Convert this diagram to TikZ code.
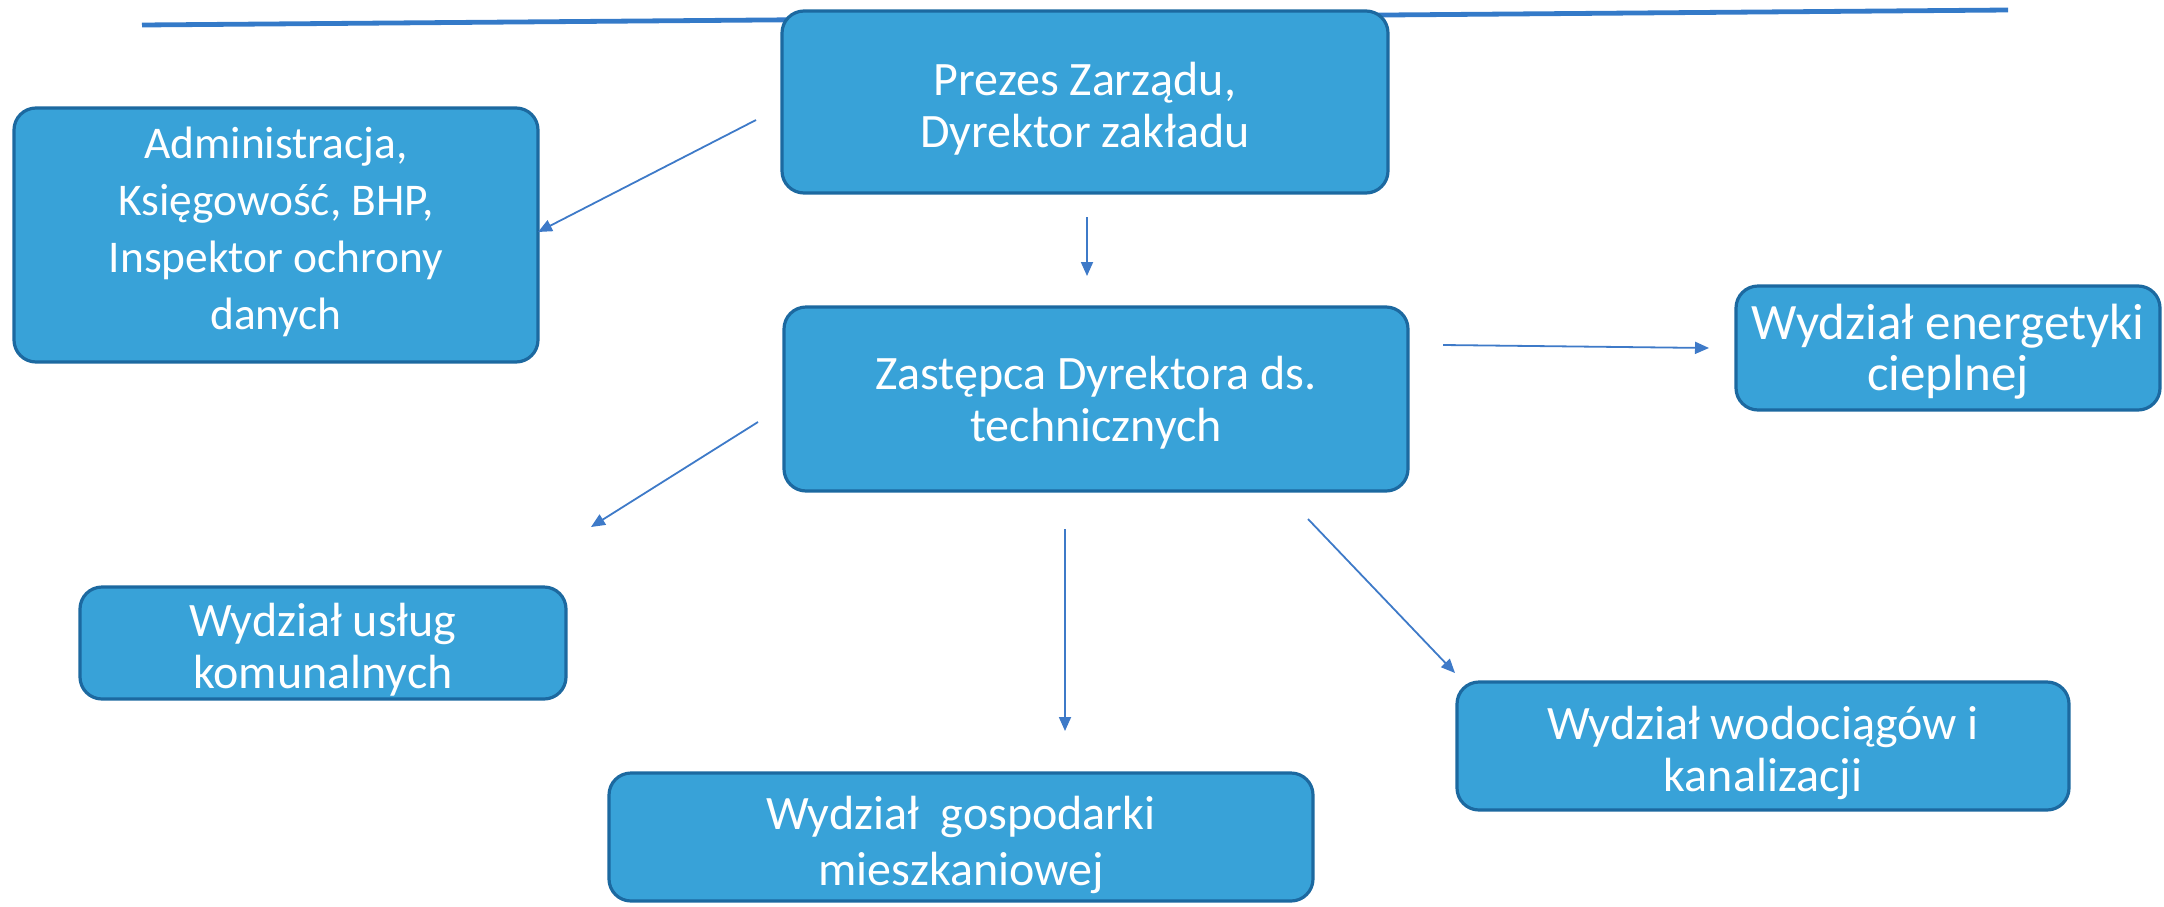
\documentclass[tikz,border=0pt]{standalone}
\usepackage{fontspec}
\setmainfont{Carlito}
\usetikzlibrary{arrows.meta}
\definecolor{boxfill}{RGB}{56,162,216}
\definecolor{boxdraw}{RGB}{28,105,160}
\definecolor{linkblue}{RGB}{62,122,200}
\definecolor{rule}{RGB}{52,122,200}
\tikzset{
  orgbox/.style={draw=boxdraw, line width=1.6pt, fill=boxfill, rounded corners=11pt,
    inner sep=0pt},
  orgtext/.style={text=white, align=center, inner sep=0pt,
    font=\fontsize{24}{26}\selectfont},
  link/.style={draw=linkblue, line width=0.9pt, -{Triangle[length=7pt,width=6pt]}}
}
\begin{document}
\begin{tikzpicture}[x=0.5pt,y=-0.5pt]
\useasboundingbox (0,0) rectangle (2164,906);
\coordinate (r1) at (142,25);
\coordinate (r2) at (2008,10);
\draw[rule, line width=2.4pt] (r1) -- (r2);

\node[orgbox, minimum width=303pt, minimum height=91pt] (prezes) at (1085,102) {};
\node[orgtext] (prezesT) at ([yshift=-3.5pt]prezes.center) {Prezes Zarządu,\\Dyrektor zakładu};

\node[orgbox, minimum width=262pt, minimum height=127pt] (admin) at (276,235) {};
\node[orgtext, font=\fontsize{22.7}{28.5}\selectfont] (adminT) at ([yshift=1.5pt]admin.center)
  {Administracja,\\Księgowość, BHP,\\Inspektor ochrony\\danych};

\node[orgbox, minimum width=312pt, minimum height=92pt] (zast) at (1096,399) {};
\node[orgtext] (zastT) at ([yshift=-2pt]zast.center) {Zastępca Dyrektora ds.\\technicznych};

\node[orgbox, minimum width=212pt, minimum height=62pt] (energ) at (1948,348) {};
\node[orgtext, font=\fontsize{25.5}{25.5}\selectfont] (energT) at ([yshift=-2pt]energ.center)
  {Wydział energetyki\\cieplnej};

\node[orgbox, minimum width=243pt, minimum height=56pt] (uslug) at (323,643) {};
\node[orgtext] (uslugT) at ([yshift=-3.5pt]uslug.center) {Wydział usług\\komunalnych};

\node[orgbox, minimum width=352pt, minimum height=64pt] (gosp) at (961,837) {};
\node[orgtext, font=\fontsize{24}{28}\selectfont] (gospT) at ([yshift=-4pt]gosp.center)
  {Wydział\ \ gospodarki\\mieszkaniowej};

\node[orgbox, minimum width=306pt, minimum height=64pt] (wod) at (1763,746) {};
\node[orgtext] (wodT) at ([yshift=-3.5pt]wod.center) {Wydział wodociągów i\\kanalizacji};

\coordinate (a1s) at (756,120);  \coordinate (a1e) at (538,232);
\coordinate (a2s) at (1087,217); \coordinate (a2e) at (1087,276);
\coordinate (a3s) at (1443,345); \coordinate (a3e) at (1709,348);
\coordinate (a4s) at (758,422);  \coordinate (a4e) at (591,527);
\coordinate (a5s) at (1065,529); \coordinate (a5e) at (1065,731);
\coordinate (a6s) at (1308,519); \coordinate (a6e) at (1455,673);
\draw[link] (a1s) -- (a1e);
\draw[link] (a2s) -- (a2e);
\draw[link] (a3s) -- (a3e);
\draw[link] (a4s) -- (a4e);
\draw[link] (a5s) -- (a5e);
\draw[link] (a6s) -- (a6e);
\end{tikzpicture}
\end{document}
